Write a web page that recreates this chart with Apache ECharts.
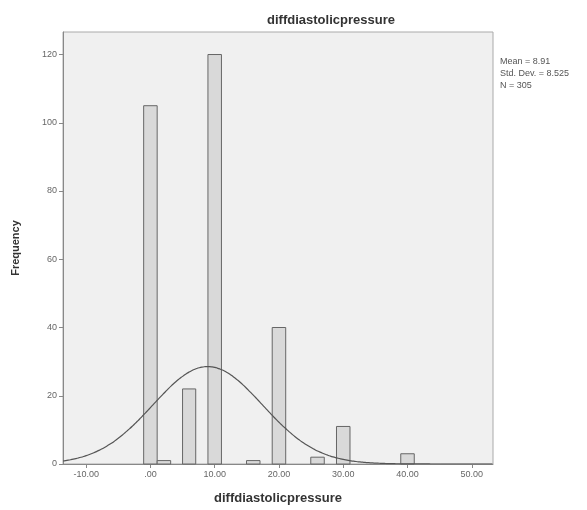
<!DOCTYPE html>
<html>
<head>
<meta charset="utf-8">
<script src="https://cdn.jsdelivr.net/npm/echarts@6/dist/echarts.min.js"></script>
<style>
  html, body { margin: 0; padding: 0; background: #fff; }
  #chart { width: 587px; height: 510px; }
</style>
</head>
<body>
<div id="chart"></div>
<script>
// histogram bins (lower edge, upper edge) and counts
var binLow = [-1.05, 1.05, 5.0, 8.95, 14.95, 18.95, 24.95, 28.95, 38.95];
var binHigh = [1.05, 3.15, 7.05, 11.05, 17.05, 21.05, 27.05, 31.05, 41.05];
var counts = [105, 1, 22, 120, 1, 40, 2, 11, 3];

// axis ticks
var xTicks = [-10, 0, 10, 20, 30, 40, 50];
var yTicks = [0, 20, 40, 60, 80, 100, 120];

// stats shown at the right
var mean = 8.91;
var stdDev = 8.525;
var total = 305;
var binWidth = 2;

var xMin = -13.6, xMax = 53.3, yMax = 126.6;

// normal curve through the histogram
var curve = [];
for (var x = xMin; x <= xMax + 0.001; x += 0.4) {
  var z = (x - mean) / stdDev;
  var y = total * binWidth * Math.exp(-0.5 * z * z) / (stdDev * Math.sqrt(2 * Math.PI));
  curve.push([x, y]);
}

var bins = [];
for (var i = 0; i < counts.length; i++) {
  bins.push([binLow[i], binHigh[i], counts[i]]);
}

function fmtX(v) {
  // SPSS style: .00, 10.00, -10.00
  var s = Math.abs(v).toFixed(2);
  if (s.indexOf('0.') === 0) s = s.slice(1);
  return (v < 0 ? '-' : '') + s;
}

var chart = echarts.init(document.getElementById('chart'));
var font = 'Liberation Sans, Arial, sans-serif';

var option = {
  animation: false,
  backgroundColor: '#ffffff',
  title: {
    text: 'diffdiastolicpressure',
    left: 326,
    textAlign: 'center',
    top: 9,
    textStyle: { fontFamily: font, fontSize: 13, fontWeight: 'bold', color: '#333' }
  },
  grid: {
    left: 63, top: 32, right: 94, bottom: 45,
    show: true,
    backgroundColor: '#f0f0f0',
    borderColor: '#aaaaaa',
    borderWidth: 1
  },
  xAxis: {
    type: 'value',
    min: xMin, max: xMax,
    name: 'diffdiastolicpressure',
    nameLocation: 'middle',
    nameGap: 28,
    nameTextStyle: { fontFamily: font, fontSize: 13, fontWeight: 'bold', color: '#333' },
    axisLine: { show: true, onZero: false, lineStyle: { color: '#888' } },
    axisTick: { show: true, length: 4, customValues: xTicks, lineStyle: { color: '#888' } },
    axisLabel: { customValues: xTicks, formatter: fmtX, fontFamily: font, fontSize: 9, color: '#666', margin: 6 },
    splitLine: { show: false }
  },
  yAxis: {
    type: 'value',
    min: 0, max: yMax,
    name: 'Frequency',
    nameLocation: 'middle',
    nameGap: 42,
    nameTextStyle: { fontFamily: font, fontSize: 11, fontWeight: 'bold', color: '#333' },
    axisLine: { show: true, onZero: false, lineStyle: { color: '#888' } },
    axisTick: { show: true, length: 4, customValues: yTicks, lineStyle: { color: '#888' } },
    axisLabel: { customValues: yTicks, fontFamily: font, fontSize: 9, color: '#666', margin: 6 },
    splitLine: { show: false }
  },
  graphic: [{
    type: 'text',
    left: 500, top: 56,
    style: {
      text: 'Mean = ' + mean + '\nStd. Dev. = ' + stdDev + '\nN = ' + total,
      font: '9px ' + font,
      fill: '#555',
      lineHeight: 12
    }
  }],
  series: [
    {
      type: 'custom',
      data: bins,
      encode: { x: [0, 1], y: 2 },
      renderItem: function (params, api) {
        var p0 = api.coord([api.value(0), api.value(2)]);
        var p1 = api.coord([api.value(1), 0]);
        return {
          type: 'rect',
          shape: { x: p0[0], y: p0[1], width: p1[0] - p0[0], height: p1[1] - p0[1] },
          style: { fill: '#d9d9d9', stroke: '#666', lineWidth: 1 }
        };
      }
    },
    {
      type: 'line',
      data: curve,
      showSymbol: false,
      smooth: true,
      lineStyle: { color: '#555', width: 1.2 },
      z: 5
    }
  ]
};
chart.setOption(option);
</script>
</body>
</html>
